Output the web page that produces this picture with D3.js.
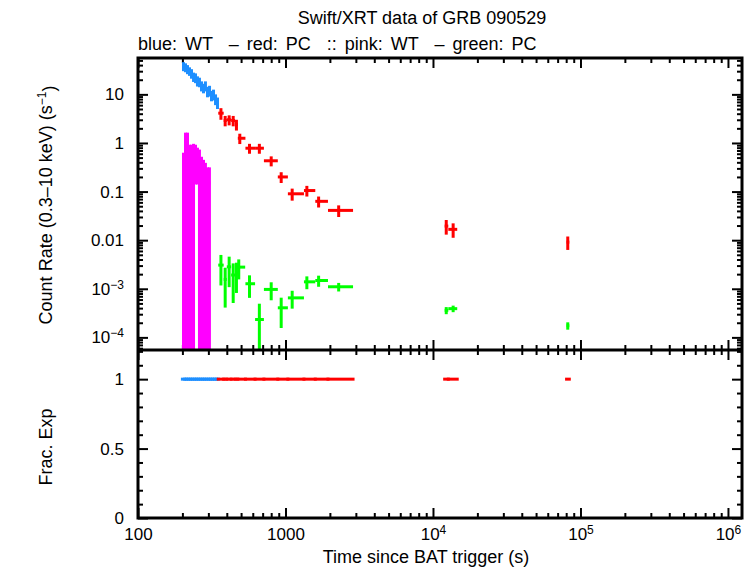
<!DOCTYPE html>
<html>
<head>
<meta charset="utf-8">
<script src="https://cdn.jsdelivr.net/npm/d3@7"></script>
<style>
body { margin: 0; background: #fff; }
svg { display: block; font-family: "Liberation Sans", Arial, Helvetica, sans-serif; }
</style>
</head>
<body>
<div class="graph-container"></div>
<script>
// values (time in s, count rate in s^-1)
// blue: WT
const blueTime   = [203.5, 210, 216.5, 223.5, 230.5, 238, 245.5, 253, 261, 269.5, 278, 286.5, 296, 305.5, 315, 325, 335.5, 346];
const blueTimeLo = [200, 207, 213, 220, 227, 234, 242, 249, 257, 265, 274, 282, 291, 301, 310, 320, 330, 341];
const blueTimeHi = [207, 213, 220, 227, 234, 242, 249, 257, 265, 274, 282, 291, 301, 310, 320, 330, 341, 351];
const blueRate   = [38, 36, 33, 30, 27, 23, 22, 19, 18, 15, 13.5, 15, 11.5, 12, 9.5, 10, 8, 6.8];
const blueErr    = [8, 7.5, 7, 6, 6, 5, 5, 4.5, 4, 3.5, 3, 3.5, 2.8, 3, 2.3, 2.5, 2, 1.8];
const blueFrac   = [1, 1, 1, 1, 1, 1, 1, 1, 1, 1, 1, 1, 1, 1, 1, 1, 1, 1];

// red: PC
const redTime   = [365, 390, 415, 442, 465, 490, 570, 665, 800, 935, 1110, 1396, 1677, 2294, 12300, 13700, 82000];
const redTimeLo = [350, 381, 400, 428, 455, 475, 535, 622, 714, 887, 1038, 1334, 1592, 1941, 12000, 12700, 80500];
const redTimeHi = [381, 400, 428, 455, 475, 535, 622, 714, 887, 1038, 1334, 1592, 1941, 2871, 12700, 14600, 84000];
const redRate   = [4.1, 2.9, 3.0, 2.9, 2.4, 1.25, 0.78, 0.78, 0.43, 0.2, 0.09, 0.105, 0.063, 0.041, 0.0195, 0.0167, 0.0091];
const redErr    = [1.1, 0.7, 0.7, 0.7, 0.6, 0.3, 0.18, 0.18, 0.1, 0.05, 0.025, 0.026, 0.016, 0.011, 0.0065, 0.0055, 0.0028];
const redFrac   = [1, 1, 1, 1, 1, 1, 1, 1, 1, 1, 1, 1, 1, 1, 1, 1, 1];

// pink: WT
const pinkTime   = [203.5, 210, 216.5, 223.5, 230.5, 238, 245.5, 253, 261, 269.5, 278, 286.5, 296, 305];
const pinkTimeLo = [200, 207, 213, 220, 227, 234, 242, 249, 257, 265, 274, 282, 291, 301];
const pinkTimeHi = [207, 213, 220, 227, 234, 242, 249, 257, 265, 274, 282, 291, 301, 309];
const pinkRate   = [0.30, 0.62, 0.55, 0.42, 0.36, 0.46, 0.53, 0.47, 0.36, 0.25, 0.22, 0.19, 0.155, 0.15];
const pinkErr    = [0.33, 1.01, 1.08, 0.50, 0.56, 0.50, 0.39, 0.33, 0.37, 0.27, 0.23, 0.20, 0.16, 0.165];

// green: PC
const greenTime   = [365, 390, 415, 442, 465, 482, 570, 665, 800, 935, 1110, 1396, 1677, 2294, 12300, 13700, 82000];
const greenTimeLo = [350, 381, 400, 428, 455, 455, 535, 622, 714, 887, 1038, 1334, 1592, 1941, 12000, 12700, 80500];
const greenTimeHi = [381, 400, 428, 455, 475, 533, 622, 714, 887, 1038, 1334, 1592, 1941, 2871, 12700, 14600, 84000];
const greenRate   = [3.07e-3, 1.56e-3, 2.83e-3, 1.92e-3, 2.13e-3, 2.79e-3, 1.27e-3, 2.33e-4, 9.7e-4, 4.06e-4, 6.5e-4, 1.39e-3, 1.48e-3, 1.1e-3, 3.6e-4, 3.9e-4, 1.74e-4];
const greenErr    = [1.9e-3, 1.15e-3, 1.75e-3, 1.41e-3, 1.31e-3, 1.23e-3, 0.62e-3, 2.6e-4, 0.39e-3, 2.5e-4, 2.6e-4, 0.41e-3, 0.38e-3, 0.22e-3, 0.6e-4, 0.6e-4, 0.3e-4];

// tick labels
const xTickValues = [100, 1000, 1e4, 1e5, 1e6];
const xTickLabels = ["100", "1000", "10^4", "10^5", "10^6"];
const yTickValues = [10, 1, 0.1, 0.01, 1e-3, 1e-4];
const yTickLabels = ["10", "1", "0.1", "0.01", "10^\u22123", "10^\u22124"];
const fracTickValues = [0, 0.5, 1];
const fracTickLabels = ["0", "0.5", "1"];

//layout
const w = 751;
const h = 568;
const L = 138, R = 742, T = 58, M = 350, B = 518;

const x = d3.scaleLog().domain([100, 1.245e6]).range([L, R]);
const yTop = d3.scaleLog().domain([5.5e-5, 56]).range([M, T]);
const yBot = d3.scaleLinear().domain([0, 1.21]).range([B, M]);

// minor ticks
const xMinor = [];
for (let d = 2; d <= 6; d++) for (let m = 2; m <= 9; m++) {
  const v = m * Math.pow(10, d);
  if (v < 1.245e6) xMinor.push(v);
}
const yMinor = [];
for (let d = -5; d <= 1; d++) for (let m = 2; m <= 9; m++) {
  const v = m * Math.pow(10, d);
  if (v > 5.5e-5 && v < 56) yMinor.push(v);
}
const fracMinor = [0.1, 0.2, 0.3, 0.4, 0.6, 0.7, 0.8, 0.9, 1.1, 1.2];

const svg = d3.select('.graph-container')
  .append("svg")
  .attr("width", w)
  .attr("height", h);

svg.append("clipPath").attr("id", "clipTop")
  .append("rect").attr("x", L).attr("y", T).attr("width", R - L).attr("height", M - T);

// superscript labels like 10^4
function labelTicks(g, values, labels) {
  g.selectAll(".tick text").each(function(d) {
    const parts = labels[values.indexOf(d)].split("^");
    const t = d3.select(this).text(parts[0]);
    if (parts.length > 1) {
      t.append("tspan").attr("dy", "-0.5em").attr("font-size", "12px").text(parts[1]);
    }
  });
}

function addAxis(axis, tx, ty) {
  const g = svg.append("g")
    .attr("transform", "translate(" + tx + "," + ty + ")")
    .call(axis);
  g.select(".domain").remove();
  g.selectAll(".tick line").attr("stroke", "#000").attr("stroke-width", 2);
  g.selectAll(".tick text").attr("fill", "#000").attr("font-size", "17px").attr("font-family", null);
  return g;
}

// x ticks: top of upper panel, both sides of the separator, bottom
addAxis(d3.axisTop(x).tickValues(xMinor).tickSizeInner(-5).tickSizeOuter(0).tickFormat(""), 0, T);
addAxis(d3.axisTop(x).tickValues(xTickValues).tickSizeInner(-10).tickSizeOuter(0).tickFormat(""), 0, T);
addAxis(d3.axisBottom(x).tickValues(xMinor).tickSizeInner(-5).tickSizeOuter(0).tickFormat(""), 0, M);
addAxis(d3.axisBottom(x).tickValues(xTickValues).tickSizeInner(-10).tickSizeOuter(0).tickFormat(""), 0, M);
addAxis(d3.axisTop(x).tickValues(xMinor).tickSizeInner(-5).tickSizeOuter(0).tickFormat(""), 0, M);
addAxis(d3.axisTop(x).tickValues(xTickValues).tickSizeInner(-10).tickSizeOuter(0).tickFormat(""), 0, M);
addAxis(d3.axisBottom(x).tickValues(xMinor).tickSizeInner(-5).tickSizeOuter(0).tickFormat(""), 0, B);
const xAxisG = addAxis(d3.axisBottom(x).tickValues(xTickValues).tickSizeInner(-10).tickSizeOuter(0).tickPadding(10), 0, B);
labelTicks(xAxisG, xTickValues, xTickLabels);

// y ticks upper panel
addAxis(d3.axisLeft(yTop).tickValues(yMinor).tickSizeInner(-5).tickSizeOuter(0).tickFormat(""), L, 0);
const yAxisG = addAxis(d3.axisLeft(yTop).tickValues(yTickValues).tickSizeInner(-10).tickSizeOuter(0).tickPadding(14), L, 0);
labelTicks(yAxisG, yTickValues, yTickLabels);
addAxis(d3.axisRight(yTop).tickValues(yMinor).tickSizeInner(-5).tickSizeOuter(0).tickFormat(""), R, 0);
addAxis(d3.axisRight(yTop).tickValues(yTickValues).tickSizeInner(-10).tickSizeOuter(0).tickFormat(""), R, 0);

// y ticks lower panel
addAxis(d3.axisLeft(yBot).tickValues(fracMinor).tickSizeInner(-5).tickSizeOuter(0).tickFormat(""), L, 0);
const fAxisG = addAxis(d3.axisLeft(yBot).tickValues(fracTickValues).tickSizeInner(-10).tickSizeOuter(0).tickPadding(14), L, 0);
labelTicks(fAxisG, fracTickValues, fracTickLabels);
addAxis(d3.axisRight(yBot).tickValues(fracMinor).tickSizeInner(-5).tickSizeOuter(0).tickFormat(""), R, 0);
addAxis(d3.axisRight(yBot).tickValues(fracTickValues).tickSizeInner(-10).tickSizeOuter(0).tickFormat(""), R, 0);

// error bar crosses
const plot = svg.append("g").attr("clip-path", "url(#clipTop)");

function drawSeries(t, lo, hi, rate, err, colour) {
  const idx = d3.range(t.length);
  plot.append("g").selectAll("line")
    .data(idx)
    .enter()
    .append("line")
    .attr("x1", i => x(t[i]))
    .attr("x2", i => x(t[i]))
    .attr("y1", i => yTop(rate[i] + err[i]))
    .attr("y2", i => rate[i] - err[i] > 0 ? yTop(rate[i] - err[i]) : M + 5)
    .attr("stroke", colour)
    .attr("stroke-width", 3);
  plot.append("g").selectAll("line")
    .data(idx)
    .enter()
    .append("line")
    .attr("x1", i => x(lo[i]))
    .attr("x2", i => x(hi[i]))
    .attr("y1", i => yTop(rate[i]))
    .attr("y2", i => yTop(rate[i]))
    .attr("stroke", colour)
    .attr("stroke-width", 3);
}

drawSeries(pinkTime, pinkTimeLo, pinkTimeHi, pinkRate, pinkErr, "#ff00ff");
drawSeries(blueTime, blueTimeLo, blueTimeHi, blueRate, blueErr, "#1e8fff");
drawSeries(redTime, redTimeLo, redTimeHi, redRate, redErr, "#ff0000");
drawSeries(greenTime, greenTimeLo, greenTimeHi, greenRate, greenErr, "#00ff00");

// fractional exposure
function drawFrac(lo, hi, frac, colour) {
  svg.append("g").selectAll("line")
    .data(d3.range(lo.length))
    .enter()
    .append("line")
    .attr("x1", i => x(lo[i]))
    .attr("x2", i => x(hi[i]))
    .attr("y1", i => yBot(frac[i]))
    .attr("y2", i => yBot(frac[i]))
    .attr("stroke", colour)
    .attr("stroke-width", 3)
    .attr("stroke-linecap", "square");
}
drawFrac(blueTimeLo, blueTimeHi, blueFrac, "#1e8fff");
drawFrac(redTimeLo, redTimeHi, redFrac, "#ff0000");

// frames
svg.append("rect")
  .attr("x", L).attr("y", T).attr("width", R - L).attr("height", B - T)
  .attr("fill", "none").attr("stroke", "#000").attr("stroke-width", 3);
svg.append("line")
  .attr("x1", L).attr("x2", R).attr("y1", M).attr("y2", M)
  .attr("stroke", "#000").attr("stroke-width", 3);

// texts
svg.append("text")
  .attr("x", 422).attr("y", 24)
  .attr("text-anchor", "middle")
  .attr("font-size", "18px")
  .text("Swift/XRT data of GRB 090529");

svg.append("text")
  .attr("x", 138).attr("y", 50)
  .attr("font-size", "18px")
  .attr("word-spacing", "3px")
  .style("white-space", "pre")
  .text("blue: WT  \u2013 red: PC  :: pink: WT  \u2013 green: PC");

svg.append("text")
  .attr("x", 426).attr("y", 563)
  .attr("text-anchor", "middle")
  .attr("font-size", "18px")
  .text("Time since BAT trigger (s)");

const yLab = svg.append("text")
  .attr("transform", "translate(52,205) rotate(-90)")
  .attr("text-anchor", "middle")
  .attr("font-size", "18px")
  .text("Count Rate (0.3\u201310 keV) (s");
yLab.append("tspan").attr("dy", "-0.5em").attr("font-size", "12px").text("\u22121");
yLab.append("tspan").attr("dy", "0.5em").text(")");

svg.append("text")
  .attr("transform", "translate(52,447) rotate(-90)")
  .attr("text-anchor", "middle")
  .attr("font-size", "18px")
  .text("Frac. Exp");
</script>
</body>
</html>
